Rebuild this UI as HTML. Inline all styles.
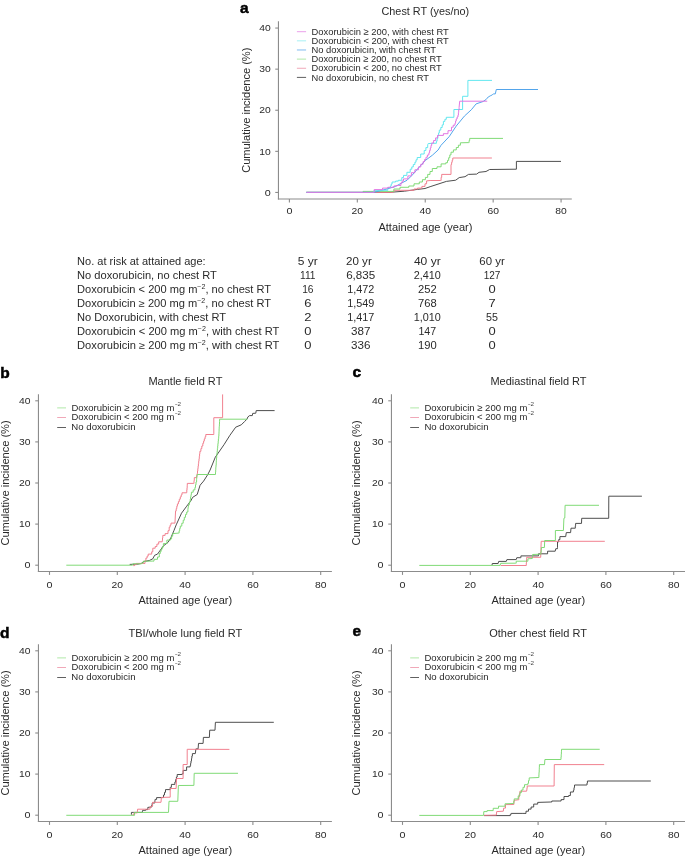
<!DOCTYPE html>
<html><head><meta charset="utf-8"><title>Figure</title>
<style>html,body{margin:0;padding:0;background:#fff;}svg{display:block;font-family:"Liberation Sans", sans-serif;will-change:transform;}</style></head>
<body><svg width="685" height="857" viewBox="0 0 685 857">
<rect width="685" height="857" fill="#fff"/>
<text x="240.00" y="12.80" font-size="15.5" font-weight="bold" fill="#000" stroke="#000" stroke-width="0.5">a</text>
<text x="381.50" y="14.90" font-size="10.6" textLength="87.60" lengthAdjust="spacingAndGlyphs" fill="#2a2a2a">Chest RT (yes/no)</text>
<line x1="278.45" y1="21.30" x2="278.45" y2="199.55" stroke="#8c8c8c" stroke-width="1.1"/>
<line x1="277.90" y1="199.00" x2="571.80" y2="199.00" stroke="#8c8c8c" stroke-width="1.1"/>
<line x1="275.25" y1="192.45" x2="278.45" y2="192.45" stroke="#8c8c8c" stroke-width="1.1"/>
<text x="264.80" y="195.60" font-size="9.8" textLength="6.00" lengthAdjust="spacingAndGlyphs" fill="#2a2a2a">0</text>
<line x1="275.25" y1="151.35" x2="278.45" y2="151.35" stroke="#8c8c8c" stroke-width="1.1"/>
<text x="259.30" y="154.50" font-size="9.8" textLength="11.50" lengthAdjust="spacingAndGlyphs" fill="#2a2a2a">10</text>
<line x1="275.25" y1="110.25" x2="278.45" y2="110.25" stroke="#8c8c8c" stroke-width="1.1"/>
<text x="259.30" y="113.40" font-size="9.8" textLength="11.50" lengthAdjust="spacingAndGlyphs" fill="#2a2a2a">20</text>
<line x1="275.25" y1="69.15" x2="278.45" y2="69.15" stroke="#8c8c8c" stroke-width="1.1"/>
<text x="259.30" y="72.30" font-size="9.8" textLength="11.50" lengthAdjust="spacingAndGlyphs" fill="#2a2a2a">30</text>
<line x1="275.25" y1="28.05" x2="278.45" y2="28.05" stroke="#8c8c8c" stroke-width="1.1"/>
<text x="259.30" y="31.20" font-size="9.8" textLength="11.50" lengthAdjust="spacingAndGlyphs" fill="#2a2a2a">40</text>
<line x1="289.40" y1="199.00" x2="289.40" y2="202.40" stroke="#8c8c8c" stroke-width="1.1"/>
<text x="286.44" y="214.10" font-size="9.8" textLength="6.00" lengthAdjust="spacingAndGlyphs" fill="#2a2a2a">0</text>
<line x1="357.32" y1="199.00" x2="357.32" y2="202.40" stroke="#8c8c8c" stroke-width="1.1"/>
<text x="351.62" y="214.10" font-size="9.8" textLength="11.50" lengthAdjust="spacingAndGlyphs" fill="#2a2a2a">20</text>
<line x1="425.24" y1="199.00" x2="425.24" y2="202.40" stroke="#8c8c8c" stroke-width="1.1"/>
<text x="419.54" y="214.10" font-size="9.8" textLength="11.50" lengthAdjust="spacingAndGlyphs" fill="#2a2a2a">40</text>
<line x1="493.16" y1="199.00" x2="493.16" y2="202.40" stroke="#8c8c8c" stroke-width="1.1"/>
<text x="487.45" y="214.10" font-size="9.8" textLength="11.50" lengthAdjust="spacingAndGlyphs" fill="#2a2a2a">60</text>
<line x1="561.08" y1="199.00" x2="561.08" y2="202.40" stroke="#8c8c8c" stroke-width="1.1"/>
<text x="555.38" y="214.10" font-size="9.8" textLength="11.50" lengthAdjust="spacingAndGlyphs" fill="#2a2a2a">80</text>
<text x="0" y="0" font-size="10.3" text-anchor="middle" textLength="125.2" lengthAdjust="spacingAndGlyphs" fill="#2a2a2a" transform="translate(249.80,110.25) rotate(-90)">Cumulative incidence (%)</text>
<text x="378.40" y="230.80" font-size="10.3" textLength="94.10" lengthAdjust="spacingAndGlyphs" fill="#2a2a2a">Attained age (year)</text>
<line x1="296.90" y1="31.70" x2="306.10" y2="31.70" stroke="#eaa0ea" stroke-width="1.0"/>
<text x="311.50" y="34.90" font-size="9.6" textLength="137.30" lengthAdjust="spacingAndGlyphs" fill="#2a2a2a">Doxorubicin ≥ 200, with chest RT</text>
<line x1="296.90" y1="40.84" x2="306.10" y2="40.84" stroke="#a8f0f4" stroke-width="1.0"/>
<text x="311.50" y="44.02" font-size="9.6" textLength="137.30" lengthAdjust="spacingAndGlyphs" fill="#2a2a2a">Doxorubicin &lt; 200, with chest RT</text>
<line x1="296.90" y1="49.98" x2="306.10" y2="49.98" stroke="#80bcf0" stroke-width="1.0"/>
<text x="311.50" y="53.14" font-size="9.6" textLength="124.50" lengthAdjust="spacingAndGlyphs" fill="#2a2a2a">No doxorubicin, with chest RT</text>
<line x1="296.90" y1="59.12" x2="306.10" y2="59.12" stroke="#b0e8a8" stroke-width="1.0"/>
<text x="311.50" y="62.26" font-size="9.6" textLength="130.30" lengthAdjust="spacingAndGlyphs" fill="#2a2a2a">Doxorubicin ≥ 200, no chest RT</text>
<line x1="296.90" y1="68.26" x2="306.10" y2="68.26" stroke="#f0a8b8" stroke-width="1.0"/>
<text x="311.50" y="71.38" font-size="9.6" textLength="130.30" lengthAdjust="spacingAndGlyphs" fill="#2a2a2a">Doxorubicin &lt; 200, no chest RT</text>
<line x1="296.90" y1="77.40" x2="306.10" y2="77.40" stroke="#606060" stroke-width="1.0"/>
<text x="311.50" y="80.50" font-size="9.6" textLength="117.50" lengthAdjust="spacingAndGlyphs" fill="#2a2a2a">No doxorubicin, no chest RT</text>
<text x="77.09" y="265.30" font-size="10.2" textLength="128.60" lengthAdjust="spacingAndGlyphs" fill="#2a2a2a">No. at risk at attained age:</text>
<text x="77.09" y="279.17" font-size="10.2" textLength="139.80" lengthAdjust="spacingAndGlyphs" fill="#2a2a2a">No doxorubicin, no chest RT</text>
<text x="77.09" y="293.04" font-size="10.2" textLength="194.00" lengthAdjust="spacingAndGlyphs" fill="#2a2a2a">Doxorubicin &lt; 200 mg m<tspan dy="-3.6" font-size="6.5">−2</tspan><tspan dy="3.6">, no chest RT</tspan></text>
<text x="77.09" y="306.91" font-size="10.2" textLength="194.00" lengthAdjust="spacingAndGlyphs" fill="#2a2a2a">Doxorubicin ≥ 200 mg m<tspan dy="-3.6" font-size="6.5">−2</tspan><tspan dy="3.6">, no chest RT</tspan></text>
<text x="77.09" y="320.78" font-size="10.2" textLength="149.00" lengthAdjust="spacingAndGlyphs" fill="#2a2a2a">No Doxorubicin, with chest RT</text>
<text x="77.09" y="334.65" font-size="10.2" textLength="202.20" lengthAdjust="spacingAndGlyphs" fill="#2a2a2a">Doxorubicin &lt; 200 mg m<tspan dy="-3.6" font-size="6.5">−2</tspan><tspan dy="3.6">, with chest RT</tspan></text>
<text x="77.09" y="348.52" font-size="10.2" textLength="202.20" lengthAdjust="spacingAndGlyphs" fill="#2a2a2a">Doxorubicin ≥ 200 mg m<tspan dy="-3.6" font-size="6.5">−2</tspan><tspan dy="3.6">, with chest RT</tspan></text>
<text x="307.80" y="265.30" font-size="10.2" text-anchor="middle" textLength="20.00" lengthAdjust="spacingAndGlyphs" fill="#2a2a2a">5 yr</text>
<text x="358.90" y="265.30" font-size="10.2" text-anchor="middle" textLength="25.70" lengthAdjust="spacingAndGlyphs" fill="#2a2a2a">20 yr</text>
<text x="427.30" y="265.30" font-size="10.2" text-anchor="middle" textLength="26.80" lengthAdjust="spacingAndGlyphs" fill="#2a2a2a">40 yr</text>
<text x="492.00" y="265.30" font-size="10.2" text-anchor="middle" textLength="25.40" lengthAdjust="spacingAndGlyphs" fill="#2a2a2a">60 yr</text>
<text x="307.80" y="279.17" font-size="10.2" text-anchor="middle" fill="#2a2a2a">111</text>
<text x="360.70" y="279.17" font-size="10.2" text-anchor="middle" textLength="29.10" lengthAdjust="spacingAndGlyphs" fill="#2a2a2a">6,835</text>
<text x="427.30" y="279.17" font-size="10.2" text-anchor="middle" textLength="27.10" lengthAdjust="spacingAndGlyphs" fill="#2a2a2a">2,410</text>
<text x="492.00" y="279.17" font-size="10.2" text-anchor="middle" textLength="16.70" lengthAdjust="spacingAndGlyphs" fill="#2a2a2a">127</text>
<text x="307.80" y="293.04" font-size="10.2" text-anchor="middle" fill="#2a2a2a">16</text>
<text x="360.70" y="293.04" font-size="10.2" text-anchor="middle" textLength="27.10" lengthAdjust="spacingAndGlyphs" fill="#2a2a2a">1,472</text>
<text x="427.30" y="293.04" font-size="10.2" text-anchor="middle" textLength="18.70" lengthAdjust="spacingAndGlyphs" fill="#2a2a2a">252</text>
<text x="492.00" y="293.04" font-size="10.2" text-anchor="middle" textLength="7.20" lengthAdjust="spacingAndGlyphs" fill="#2a2a2a">0</text>
<text x="307.80" y="306.91" font-size="10.2" text-anchor="middle" textLength="7.20" lengthAdjust="spacingAndGlyphs" fill="#2a2a2a">6</text>
<text x="360.70" y="306.91" font-size="10.2" text-anchor="middle" textLength="27.10" lengthAdjust="spacingAndGlyphs" fill="#2a2a2a">1,549</text>
<text x="427.30" y="306.91" font-size="10.2" text-anchor="middle" textLength="18.70" lengthAdjust="spacingAndGlyphs" fill="#2a2a2a">768</text>
<text x="492.00" y="306.91" font-size="10.2" text-anchor="middle" textLength="7.20" lengthAdjust="spacingAndGlyphs" fill="#2a2a2a">7</text>
<text x="307.80" y="320.78" font-size="10.2" text-anchor="middle" textLength="7.20" lengthAdjust="spacingAndGlyphs" fill="#2a2a2a">2</text>
<text x="360.70" y="320.78" font-size="10.2" text-anchor="middle" textLength="27.10" lengthAdjust="spacingAndGlyphs" fill="#2a2a2a">1,417</text>
<text x="427.30" y="320.78" font-size="10.2" text-anchor="middle" textLength="27.10" lengthAdjust="spacingAndGlyphs" fill="#2a2a2a">1,010</text>
<text x="492.00" y="320.78" font-size="10.2" text-anchor="middle" textLength="11.90" lengthAdjust="spacingAndGlyphs" fill="#2a2a2a">55</text>
<text x="307.80" y="334.65" font-size="10.2" text-anchor="middle" textLength="7.20" lengthAdjust="spacingAndGlyphs" fill="#2a2a2a">0</text>
<text x="360.70" y="334.65" font-size="10.2" text-anchor="middle" textLength="19.40" lengthAdjust="spacingAndGlyphs" fill="#2a2a2a">387</text>
<text x="427.30" y="334.65" font-size="10.2" text-anchor="middle" textLength="17.70" lengthAdjust="spacingAndGlyphs" fill="#2a2a2a">147</text>
<text x="492.00" y="334.65" font-size="10.2" text-anchor="middle" textLength="7.20" lengthAdjust="spacingAndGlyphs" fill="#2a2a2a">0</text>
<text x="307.80" y="348.52" font-size="10.2" text-anchor="middle" textLength="7.20" lengthAdjust="spacingAndGlyphs" fill="#2a2a2a">0</text>
<text x="360.70" y="348.52" font-size="10.2" text-anchor="middle" textLength="19.40" lengthAdjust="spacingAndGlyphs" fill="#2a2a2a">336</text>
<text x="427.30" y="348.52" font-size="10.2" text-anchor="middle" textLength="18.70" lengthAdjust="spacingAndGlyphs" fill="#2a2a2a">190</text>
<text x="492.00" y="348.52" font-size="10.2" text-anchor="middle" textLength="7.20" lengthAdjust="spacingAndGlyphs" fill="#2a2a2a">0</text>
<text x="0.30" y="378.10" font-size="15.5" font-weight="bold" fill="#000" stroke="#000" stroke-width="0.5">b</text>
<text x="148.40" y="384.80" font-size="10.6" textLength="74.00" lengthAdjust="spacingAndGlyphs" fill="#2a2a2a">Mantle field RT</text>
<line x1="38.45" y1="394.30" x2="38.45" y2="572.05" stroke="#8c8c8c" stroke-width="1.1"/>
<line x1="37.90" y1="571.50" x2="331.90" y2="571.50" stroke="#8c8c8c" stroke-width="1.1"/>
<line x1="35.25" y1="565.20" x2="38.45" y2="565.20" stroke="#8c8c8c" stroke-width="1.1"/>
<text x="24.59" y="568.35" font-size="9.8" textLength="6.00" lengthAdjust="spacingAndGlyphs" fill="#2a2a2a">0</text>
<line x1="35.25" y1="524.10" x2="38.45" y2="524.10" stroke="#8c8c8c" stroke-width="1.1"/>
<text x="19.09" y="527.25" font-size="9.8" textLength="11.50" lengthAdjust="spacingAndGlyphs" fill="#2a2a2a">10</text>
<line x1="35.25" y1="483.00" x2="38.45" y2="483.00" stroke="#8c8c8c" stroke-width="1.1"/>
<text x="19.09" y="486.15" font-size="9.8" textLength="11.50" lengthAdjust="spacingAndGlyphs" fill="#2a2a2a">20</text>
<line x1="35.25" y1="441.90" x2="38.45" y2="441.90" stroke="#8c8c8c" stroke-width="1.1"/>
<text x="19.09" y="445.05" font-size="9.8" textLength="11.50" lengthAdjust="spacingAndGlyphs" fill="#2a2a2a">30</text>
<line x1="35.25" y1="400.80" x2="38.45" y2="400.80" stroke="#8c8c8c" stroke-width="1.1"/>
<text x="19.09" y="403.95" font-size="9.8" textLength="11.50" lengthAdjust="spacingAndGlyphs" fill="#2a2a2a">40</text>
<line x1="49.50" y1="571.50" x2="49.50" y2="574.90" stroke="#8c8c8c" stroke-width="1.1"/>
<text x="46.55" y="587.90" font-size="9.8" textLength="6.00" lengthAdjust="spacingAndGlyphs" fill="#2a2a2a">0</text>
<line x1="117.30" y1="571.50" x2="117.30" y2="574.90" stroke="#8c8c8c" stroke-width="1.1"/>
<text x="111.59" y="587.90" font-size="9.8" textLength="11.50" lengthAdjust="spacingAndGlyphs" fill="#2a2a2a">20</text>
<line x1="185.10" y1="571.50" x2="185.10" y2="574.90" stroke="#8c8c8c" stroke-width="1.1"/>
<text x="179.39" y="587.90" font-size="9.8" textLength="11.50" lengthAdjust="spacingAndGlyphs" fill="#2a2a2a">40</text>
<line x1="252.90" y1="571.50" x2="252.90" y2="574.90" stroke="#8c8c8c" stroke-width="1.1"/>
<text x="247.19" y="587.90" font-size="9.8" textLength="11.50" lengthAdjust="spacingAndGlyphs" fill="#2a2a2a">60</text>
<line x1="320.70" y1="571.50" x2="320.70" y2="574.90" stroke="#8c8c8c" stroke-width="1.1"/>
<text x="315.00" y="587.90" font-size="9.8" textLength="11.50" lengthAdjust="spacingAndGlyphs" fill="#2a2a2a">80</text>
<text x="0" y="0" font-size="10.3" text-anchor="middle" textLength="125.2" lengthAdjust="spacingAndGlyphs" fill="#2a2a2a" transform="translate(9.20,483.00) rotate(-90)">Cumulative incidence (%)</text>
<text x="138.50" y="603.90" font-size="10.3" textLength="93.60" lengthAdjust="spacingAndGlyphs" fill="#2a2a2a">Attained age (year)</text>
<line x1="57.20" y1="407.90" x2="66.00" y2="407.90" stroke="#b0e8a8" stroke-width="1.0"/>
<text x="71.39" y="410.90" font-size="9.6" textLength="103.00" lengthAdjust="spacingAndGlyphs" fill="#2a2a2a">Doxorubicin ≥ 200 mg m</text>
<text x="174.79" y="405.90" font-size="6.0" textLength="3.00" lengthAdjust="spacingAndGlyphs" fill="#444">-</text>
<text x="177.59" y="405.90" font-size="6.0" textLength="3.50" lengthAdjust="spacingAndGlyphs" fill="#444">2</text>
<line x1="57.20" y1="417.50" x2="66.00" y2="417.50" stroke="#f0a8b8" stroke-width="1.0"/>
<text x="71.39" y="420.40" font-size="9.6" textLength="103.00" lengthAdjust="spacingAndGlyphs" fill="#2a2a2a">Doxorubicin &lt; 200 mg m</text>
<text x="174.79" y="415.40" font-size="6.0" textLength="3.00" lengthAdjust="spacingAndGlyphs" fill="#444">-</text>
<text x="177.59" y="415.40" font-size="6.0" textLength="3.50" lengthAdjust="spacingAndGlyphs" fill="#444">2</text>
<line x1="57.20" y1="427.50" x2="66.00" y2="427.50" stroke="#606060" stroke-width="1.0"/>
<text x="71.39" y="429.90" font-size="9.6" textLength="64.10" lengthAdjust="spacingAndGlyphs" fill="#2a2a2a">No doxorubicin</text>
<text x="352.40" y="377.30" font-size="15.5" font-weight="bold" fill="#000" stroke="#000" stroke-width="0.5">c</text>
<text x="490.50" y="384.90" font-size="10.6" textLength="96.00" lengthAdjust="spacingAndGlyphs" fill="#2a2a2a">Mediastinal field RT</text>
<line x1="391.45" y1="394.30" x2="391.45" y2="572.05" stroke="#8c8c8c" stroke-width="1.1"/>
<line x1="390.90" y1="571.50" x2="690.00" y2="571.50" stroke="#8c8c8c" stroke-width="1.1"/>
<line x1="388.25" y1="565.20" x2="391.45" y2="565.20" stroke="#8c8c8c" stroke-width="1.1"/>
<text x="377.60" y="568.35" font-size="9.8" textLength="6.00" lengthAdjust="spacingAndGlyphs" fill="#2a2a2a">0</text>
<line x1="388.25" y1="524.10" x2="391.45" y2="524.10" stroke="#8c8c8c" stroke-width="1.1"/>
<text x="372.10" y="527.25" font-size="9.8" textLength="11.50" lengthAdjust="spacingAndGlyphs" fill="#2a2a2a">10</text>
<line x1="388.25" y1="483.00" x2="391.45" y2="483.00" stroke="#8c8c8c" stroke-width="1.1"/>
<text x="372.10" y="486.15" font-size="9.8" textLength="11.50" lengthAdjust="spacingAndGlyphs" fill="#2a2a2a">20</text>
<line x1="388.25" y1="441.90" x2="391.45" y2="441.90" stroke="#8c8c8c" stroke-width="1.1"/>
<text x="372.10" y="445.05" font-size="9.8" textLength="11.50" lengthAdjust="spacingAndGlyphs" fill="#2a2a2a">30</text>
<line x1="388.25" y1="400.80" x2="391.45" y2="400.80" stroke="#8c8c8c" stroke-width="1.1"/>
<text x="372.10" y="403.95" font-size="9.8" textLength="11.50" lengthAdjust="spacingAndGlyphs" fill="#2a2a2a">40</text>
<line x1="402.50" y1="571.50" x2="402.50" y2="574.90" stroke="#8c8c8c" stroke-width="1.1"/>
<text x="399.55" y="587.90" font-size="9.8" textLength="6.00" lengthAdjust="spacingAndGlyphs" fill="#2a2a2a">0</text>
<line x1="470.30" y1="571.50" x2="470.30" y2="574.90" stroke="#8c8c8c" stroke-width="1.1"/>
<text x="464.60" y="587.90" font-size="9.8" textLength="11.50" lengthAdjust="spacingAndGlyphs" fill="#2a2a2a">20</text>
<line x1="538.10" y1="571.50" x2="538.10" y2="574.90" stroke="#8c8c8c" stroke-width="1.1"/>
<text x="532.40" y="587.90" font-size="9.8" textLength="11.50" lengthAdjust="spacingAndGlyphs" fill="#2a2a2a">40</text>
<line x1="605.90" y1="571.50" x2="605.90" y2="574.90" stroke="#8c8c8c" stroke-width="1.1"/>
<text x="600.20" y="587.90" font-size="9.8" textLength="11.50" lengthAdjust="spacingAndGlyphs" fill="#2a2a2a">60</text>
<line x1="673.70" y1="571.50" x2="673.70" y2="574.90" stroke="#8c8c8c" stroke-width="1.1"/>
<text x="668.00" y="587.90" font-size="9.8" textLength="11.50" lengthAdjust="spacingAndGlyphs" fill="#2a2a2a">80</text>
<text x="0" y="0" font-size="10.3" text-anchor="middle" textLength="125.2" lengthAdjust="spacingAndGlyphs" fill="#2a2a2a" transform="translate(360.20,483.00) rotate(-90)">Cumulative incidence (%)</text>
<text x="491.50" y="603.90" font-size="10.3" textLength="93.60" lengthAdjust="spacingAndGlyphs" fill="#2a2a2a">Attained age (year)</text>
<line x1="410.20" y1="407.90" x2="419.00" y2="407.90" stroke="#b0e8a8" stroke-width="1.0"/>
<text x="424.40" y="410.90" font-size="9.6" textLength="103.00" lengthAdjust="spacingAndGlyphs" fill="#2a2a2a">Doxorubicin ≥ 200 mg m</text>
<text x="527.80" y="405.90" font-size="6.0" textLength="3.00" lengthAdjust="spacingAndGlyphs" fill="#444">-</text>
<text x="530.60" y="405.90" font-size="6.0" textLength="3.50" lengthAdjust="spacingAndGlyphs" fill="#444">2</text>
<line x1="410.20" y1="417.50" x2="419.00" y2="417.50" stroke="#f0a8b8" stroke-width="1.0"/>
<text x="424.40" y="420.40" font-size="9.6" textLength="103.00" lengthAdjust="spacingAndGlyphs" fill="#2a2a2a">Doxorubicin &lt; 200 mg m</text>
<text x="527.80" y="415.40" font-size="6.0" textLength="3.00" lengthAdjust="spacingAndGlyphs" fill="#444">-</text>
<text x="530.60" y="415.40" font-size="6.0" textLength="3.50" lengthAdjust="spacingAndGlyphs" fill="#444">2</text>
<line x1="410.20" y1="427.50" x2="419.00" y2="427.50" stroke="#606060" stroke-width="1.0"/>
<text x="424.40" y="429.90" font-size="9.6" textLength="64.10" lengthAdjust="spacingAndGlyphs" fill="#2a2a2a">No doxorubicin</text>
<text x="0.00" y="637.70" font-size="15.5" font-weight="bold" fill="#000" stroke="#000" stroke-width="0.5">d</text>
<text x="128.40" y="636.80" font-size="10.6" textLength="113.90" lengthAdjust="spacingAndGlyphs" fill="#2a2a2a">TBI/whole lung field RT</text>
<line x1="38.45" y1="644.30" x2="38.45" y2="822.05" stroke="#8c8c8c" stroke-width="1.1"/>
<line x1="37.90" y1="821.50" x2="331.90" y2="821.50" stroke="#8c8c8c" stroke-width="1.1"/>
<line x1="35.25" y1="815.20" x2="38.45" y2="815.20" stroke="#8c8c8c" stroke-width="1.1"/>
<text x="24.59" y="818.35" font-size="9.8" textLength="6.00" lengthAdjust="spacingAndGlyphs" fill="#2a2a2a">0</text>
<line x1="35.25" y1="774.10" x2="38.45" y2="774.10" stroke="#8c8c8c" stroke-width="1.1"/>
<text x="19.09" y="777.25" font-size="9.8" textLength="11.50" lengthAdjust="spacingAndGlyphs" fill="#2a2a2a">10</text>
<line x1="35.25" y1="733.00" x2="38.45" y2="733.00" stroke="#8c8c8c" stroke-width="1.1"/>
<text x="19.09" y="736.15" font-size="9.8" textLength="11.50" lengthAdjust="spacingAndGlyphs" fill="#2a2a2a">20</text>
<line x1="35.25" y1="691.90" x2="38.45" y2="691.90" stroke="#8c8c8c" stroke-width="1.1"/>
<text x="19.09" y="695.05" font-size="9.8" textLength="11.50" lengthAdjust="spacingAndGlyphs" fill="#2a2a2a">30</text>
<line x1="35.25" y1="650.80" x2="38.45" y2="650.80" stroke="#8c8c8c" stroke-width="1.1"/>
<text x="19.09" y="653.95" font-size="9.8" textLength="11.50" lengthAdjust="spacingAndGlyphs" fill="#2a2a2a">40</text>
<line x1="49.50" y1="821.50" x2="49.50" y2="824.90" stroke="#8c8c8c" stroke-width="1.1"/>
<text x="46.55" y="837.90" font-size="9.8" textLength="6.00" lengthAdjust="spacingAndGlyphs" fill="#2a2a2a">0</text>
<line x1="117.30" y1="821.50" x2="117.30" y2="824.90" stroke="#8c8c8c" stroke-width="1.1"/>
<text x="111.59" y="837.90" font-size="9.8" textLength="11.50" lengthAdjust="spacingAndGlyphs" fill="#2a2a2a">20</text>
<line x1="185.10" y1="821.50" x2="185.10" y2="824.90" stroke="#8c8c8c" stroke-width="1.1"/>
<text x="179.39" y="837.90" font-size="9.8" textLength="11.50" lengthAdjust="spacingAndGlyphs" fill="#2a2a2a">40</text>
<line x1="252.90" y1="821.50" x2="252.90" y2="824.90" stroke="#8c8c8c" stroke-width="1.1"/>
<text x="247.19" y="837.90" font-size="9.8" textLength="11.50" lengthAdjust="spacingAndGlyphs" fill="#2a2a2a">60</text>
<line x1="320.70" y1="821.50" x2="320.70" y2="824.90" stroke="#8c8c8c" stroke-width="1.1"/>
<text x="315.00" y="837.90" font-size="9.8" textLength="11.50" lengthAdjust="spacingAndGlyphs" fill="#2a2a2a">80</text>
<text x="0" y="0" font-size="10.3" text-anchor="middle" textLength="125.2" lengthAdjust="spacingAndGlyphs" fill="#2a2a2a" transform="translate(9.20,733.00) rotate(-90)">Cumulative incidence (%)</text>
<text x="138.50" y="853.90" font-size="10.3" textLength="93.60" lengthAdjust="spacingAndGlyphs" fill="#2a2a2a">Attained age (year)</text>
<line x1="57.20" y1="657.90" x2="66.00" y2="657.90" stroke="#b0e8a8" stroke-width="1.0"/>
<text x="71.39" y="660.90" font-size="9.6" textLength="103.00" lengthAdjust="spacingAndGlyphs" fill="#2a2a2a">Doxorubicin ≥ 200 mg m</text>
<text x="174.79" y="655.90" font-size="6.0" textLength="3.00" lengthAdjust="spacingAndGlyphs" fill="#444">-</text>
<text x="177.59" y="655.90" font-size="6.0" textLength="3.50" lengthAdjust="spacingAndGlyphs" fill="#444">2</text>
<line x1="57.20" y1="667.50" x2="66.00" y2="667.50" stroke="#f0a8b8" stroke-width="1.0"/>
<text x="71.39" y="670.40" font-size="9.6" textLength="103.00" lengthAdjust="spacingAndGlyphs" fill="#2a2a2a">Doxorubicin &lt; 200 mg m</text>
<text x="174.79" y="665.40" font-size="6.0" textLength="3.00" lengthAdjust="spacingAndGlyphs" fill="#444">-</text>
<text x="177.59" y="665.40" font-size="6.0" textLength="3.50" lengthAdjust="spacingAndGlyphs" fill="#444">2</text>
<line x1="57.20" y1="677.50" x2="66.00" y2="677.50" stroke="#606060" stroke-width="1.0"/>
<text x="71.39" y="679.90" font-size="9.6" textLength="64.10" lengthAdjust="spacingAndGlyphs" fill="#2a2a2a">No doxorubicin</text>
<text x="352.40" y="636.00" font-size="15.5" font-weight="bold" fill="#000" stroke="#000" stroke-width="0.5">e</text>
<text x="489.20" y="637.20" font-size="10.6" textLength="97.80" lengthAdjust="spacingAndGlyphs" fill="#2a2a2a">Other chest field RT</text>
<line x1="391.45" y1="644.30" x2="391.45" y2="822.05" stroke="#8c8c8c" stroke-width="1.1"/>
<line x1="390.90" y1="821.50" x2="690.00" y2="821.50" stroke="#8c8c8c" stroke-width="1.1"/>
<line x1="388.25" y1="815.20" x2="391.45" y2="815.20" stroke="#8c8c8c" stroke-width="1.1"/>
<text x="377.60" y="818.35" font-size="9.8" textLength="6.00" lengthAdjust="spacingAndGlyphs" fill="#2a2a2a">0</text>
<line x1="388.25" y1="774.10" x2="391.45" y2="774.10" stroke="#8c8c8c" stroke-width="1.1"/>
<text x="372.10" y="777.25" font-size="9.8" textLength="11.50" lengthAdjust="spacingAndGlyphs" fill="#2a2a2a">10</text>
<line x1="388.25" y1="733.00" x2="391.45" y2="733.00" stroke="#8c8c8c" stroke-width="1.1"/>
<text x="372.10" y="736.15" font-size="9.8" textLength="11.50" lengthAdjust="spacingAndGlyphs" fill="#2a2a2a">20</text>
<line x1="388.25" y1="691.90" x2="391.45" y2="691.90" stroke="#8c8c8c" stroke-width="1.1"/>
<text x="372.10" y="695.05" font-size="9.8" textLength="11.50" lengthAdjust="spacingAndGlyphs" fill="#2a2a2a">30</text>
<line x1="388.25" y1="650.80" x2="391.45" y2="650.80" stroke="#8c8c8c" stroke-width="1.1"/>
<text x="372.10" y="653.95" font-size="9.8" textLength="11.50" lengthAdjust="spacingAndGlyphs" fill="#2a2a2a">40</text>
<line x1="402.50" y1="821.50" x2="402.50" y2="824.90" stroke="#8c8c8c" stroke-width="1.1"/>
<text x="399.55" y="837.90" font-size="9.8" textLength="6.00" lengthAdjust="spacingAndGlyphs" fill="#2a2a2a">0</text>
<line x1="470.30" y1="821.50" x2="470.30" y2="824.90" stroke="#8c8c8c" stroke-width="1.1"/>
<text x="464.60" y="837.90" font-size="9.8" textLength="11.50" lengthAdjust="spacingAndGlyphs" fill="#2a2a2a">20</text>
<line x1="538.10" y1="821.50" x2="538.10" y2="824.90" stroke="#8c8c8c" stroke-width="1.1"/>
<text x="532.40" y="837.90" font-size="9.8" textLength="11.50" lengthAdjust="spacingAndGlyphs" fill="#2a2a2a">40</text>
<line x1="605.90" y1="821.50" x2="605.90" y2="824.90" stroke="#8c8c8c" stroke-width="1.1"/>
<text x="600.20" y="837.90" font-size="9.8" textLength="11.50" lengthAdjust="spacingAndGlyphs" fill="#2a2a2a">60</text>
<line x1="673.70" y1="821.50" x2="673.70" y2="824.90" stroke="#8c8c8c" stroke-width="1.1"/>
<text x="668.00" y="837.90" font-size="9.8" textLength="11.50" lengthAdjust="spacingAndGlyphs" fill="#2a2a2a">80</text>
<text x="0" y="0" font-size="10.3" text-anchor="middle" textLength="125.2" lengthAdjust="spacingAndGlyphs" fill="#2a2a2a" transform="translate(360.20,733.00) rotate(-90)">Cumulative incidence (%)</text>
<text x="491.50" y="853.90" font-size="10.3" textLength="93.60" lengthAdjust="spacingAndGlyphs" fill="#2a2a2a">Attained age (year)</text>
<line x1="410.20" y1="657.90" x2="419.00" y2="657.90" stroke="#b0e8a8" stroke-width="1.0"/>
<text x="424.40" y="660.90" font-size="9.6" textLength="103.00" lengthAdjust="spacingAndGlyphs" fill="#2a2a2a">Doxorubicin ≥ 200 mg m</text>
<text x="527.80" y="655.90" font-size="6.0" textLength="3.00" lengthAdjust="spacingAndGlyphs" fill="#444">-</text>
<text x="530.60" y="655.90" font-size="6.0" textLength="3.50" lengthAdjust="spacingAndGlyphs" fill="#444">2</text>
<line x1="410.20" y1="667.50" x2="419.00" y2="667.50" stroke="#f0a8b8" stroke-width="1.0"/>
<text x="424.40" y="670.40" font-size="9.6" textLength="103.00" lengthAdjust="spacingAndGlyphs" fill="#2a2a2a">Doxorubicin &lt; 200 mg m</text>
<text x="527.80" y="665.40" font-size="6.0" textLength="3.00" lengthAdjust="spacingAndGlyphs" fill="#444">-</text>
<text x="530.60" y="665.40" font-size="6.0" textLength="3.50" lengthAdjust="spacingAndGlyphs" fill="#444">2</text>
<line x1="410.20" y1="677.50" x2="419.00" y2="677.50" stroke="#606060" stroke-width="1.0"/>
<text x="424.40" y="679.90" font-size="9.6" textLength="64.10" lengthAdjust="spacingAndGlyphs" fill="#2a2a2a">No doxorubicin</text>
<polyline points="306.3,192.4 390.0,192.4 393.9,192.0 404.4,191.2 417.5,189.4 425.0,188.5 430.1,186.7 446.4,181.4 455.7,180.2 459.2,177.6 465.0,176.7 468.5,174.4 476.7,174.1 479.0,172.3 486.0,171.5 489.6,169.5 516.4,169.2 516.4,161.4 561.0,161.4" fill="none" stroke="#454545" stroke-width="0.95" stroke-linejoin="miter"/>
<polyline points="306.3,192.4 372.9,192.4 393.0,192.4 393.0,191.2 394.8,191.2 394.8,190.3 414.0,190.3 414.0,189.0 417.5,189.0 417.5,188.1 421.9,188.1 421.9,186.4 425.0,186.4 425.0,183.8 426.6,183.8 426.6,180.9 430.1,180.5 440.5,180.5 441.1,180.5 441.1,177.4 441.7,177.4 441.7,174.4 451.0,174.4 451.0,164.5 451.6,164.5 451.6,162.3 452.2,162.3 452.2,160.2 452.8,160.2 452.8,158.0 491.9,158.0" fill="none" stroke="#f07a8a" stroke-width="0.95" stroke-linejoin="miter"/>
<polyline points="306.3,192.4 361.0,192.4 363.0,192.4 363.0,191.4 393.9,191.4 393.9,189.0 400.0,189.0 400.0,187.3 408.8,187.3 408.8,186.0 414.0,186.0 414.0,183.8 419.3,183.8 419.3,182.0 422.4,182.0 422.4,179.7 425.4,179.7 425.4,177.4 427.7,177.4 427.7,174.4 430.0,174.4 430.0,171.5 432.3,171.5 432.3,168.5 437.0,168.5 437.0,166.8 441.1,166.8 441.1,163.9 445.8,163.9 445.8,162.7 447.5,162.7 447.5,160.4 448.7,160.4 448.7,157.7 449.8,157.7 449.8,154.9 451.0,154.9 451.0,152.2 453.4,152.2 453.4,149.9 456.3,149.9 456.3,147.5 458.4,147.5 458.4,145.2 460.4,145.2 460.4,142.8 468.5,142.6 469.1,142.6 469.1,140.5 469.7,140.5 469.7,138.4 503.0,138.4" fill="none" stroke="#7ad870" stroke-width="0.95" stroke-linejoin="miter"/>
<polyline points="306.3,192.4 373.8,192.4 386.9,189.0 395.6,186.4 401.8,182.9 407.0,180.3 412.3,175.0 418.4,168.0 425.4,160.4 432.4,155.2 438.1,150.0 441.0,145.3 449.2,136.6 456.2,126.1 464.4,116.1 471.4,109.7 476.1,103.9 483.1,101.5 486.1,99.5 488.2,97.0 490.2,95.9 492.3,94.9 493.3,93.9 495.3,93.9 496.3,89.5 538.0,89.5" fill="none" stroke="#4aa0ea" stroke-width="0.95" stroke-linejoin="miter"/>
<polyline points="306.3,192.4 371.1,192.4 373.8,192.4 373.8,190.8 382.5,190.3 387.8,190.3 387.8,187.7 390.4,187.7 390.4,186.0 391.2,186.0 391.2,184.0 392.1,184.0 392.1,182.0 395.6,182.0 395.6,181.1 398.3,181.1 398.3,180.3 401.8,180.3 401.8,177.6 403.5,177.6 403.5,175.4 406.9,175.4 406.9,172.3 410.2,172.3 410.2,169.2 411.8,169.2 411.8,166.9 413.3,166.9 413.3,164.5 414.9,164.5 414.9,162.2 416.0,162.2 416.0,159.8 417.2,159.8 417.2,157.5 420.7,157.5 420.7,154.0 424.2,154.0 424.2,150.5 425.9,150.5 425.9,147.6 427.7,147.6 427.7,144.7 428.2,143.6 431.7,143.3 436.4,143.3 436.4,141.2 437.1,141.2 437.1,138.4 437.9,138.4 437.9,135.6 438.6,135.6 438.6,132.9 439.3,132.9 439.3,130.1 440.8,130.1 440.8,127.5 442.2,127.5 442.2,124.9 443.4,124.9 443.4,121.4 444.9,121.4 444.9,119.3 446.3,119.3 446.3,117.3 453.9,117.3 453.9,109.5 462.6,109.5 462.6,96.3 467.9,96.3 467.9,80.4 492.0,80.4" fill="none" stroke="#5ce6ee" stroke-width="0.95" stroke-linejoin="miter"/>
<polyline points="306.3,192.4 371.0,192.4 374.2,192.4 374.2,189.6 382.5,189.6 382.5,188.1 387.8,188.1 387.8,187.3 393.9,187.3 393.9,186.0 398.3,185.5 400.9,185.5 400.9,182.9 402.2,182.9 402.2,180.9 403.5,180.9 403.5,178.9 407.9,178.9 407.9,175.9 411.4,175.9 411.4,172.7 414.9,172.7 414.9,169.8 418.4,169.8 418.4,166.9 420.8,166.9 420.8,164.2 423.1,164.2 423.1,161.6 424.6,161.6 424.6,159.4 426.0,159.4 426.0,157.2 427.4,157.2 427.4,155.0 428.9,155.0 428.9,152.8 429.6,152.8 429.6,150.4 430.3,150.4 430.3,147.9 431.0,147.9 431.0,145.4 431.7,145.4 431.7,143.0 433.6,143.0 433.6,140.5 435.6,140.5 435.6,137.9 437.5,137.9 437.5,135.4 443.4,135.4 443.4,133.7 448.0,133.7 448.0,130.7 451.5,130.7 451.5,127.2 453.2,127.2 453.2,125.2 455.0,125.2 455.0,123.1 455.6,123.1 455.6,121.0 456.2,121.0 456.2,119.0 457.1,119.0 457.1,117.0 458.0,117.0 458.0,115.0 458.4,115.0 458.4,112.5 458.7,112.5 458.7,109.9 459.1,109.9 459.1,107.4 459.7,101.2 487.2,101.2" fill="none" stroke="#e070e0" stroke-width="0.95" stroke-linejoin="miter"/>
<polyline points="129.7,564.4 138.0,564.1 141.5,563.4 143.3,561.6 149.3,560.5 152.8,558.8 154.6,555.3 157.5,554.1 163.4,545.9 168.0,542.4 170.9,537.7 173.9,530.7 176.2,524.9 181.5,513.2 186.7,506.2 190.8,500.9 192.6,497.4 197.2,494.5 200.1,485.2 203.6,481.1 207.7,474.7 210.1,470.0 215.3,457.2 224.0,444.7 229.9,435.3 235.7,427.2 241.3,424.8 244.4,421.7 247.0,419.1 247.9,416.9 249.6,415.6 252.3,415.6 252.7,413.4 255.8,413.2 256.2,410.6 274.6,410.6" fill="none" stroke="#454545" stroke-width="0.95" stroke-linejoin="miter"/>
<polyline points="133.2,565.6 134.5,565.6 134.5,564.7 136.3,564.7 136.3,563.4 145.0,563.4 145.0,560.8 145.9,560.8 145.9,558.1 147.1,558.1 147.1,556.1 148.2,556.1 148.2,554.1 151.7,554.1 151.7,551.8 152.8,551.8 152.8,548.2 155.2,548.2 155.2,546.5 156.9,546.5 156.9,544.1 158.7,544.1 158.7,541.8 162.2,541.8 162.2,540.7 162.5,540.7 162.5,538.0 162.8,538.0 162.8,535.4 165.1,535.4 165.1,533.6 168.0,533.6 168.0,530.7 169.2,530.7 169.2,527.2 170.1,527.2 170.1,525.2 171.0,525.2 171.0,523.1 175.0,523.1 175.0,522.0 175.6,510.9 176.2,510.9 176.2,508.6 176.8,508.6 176.8,506.2 177.4,506.2 177.4,503.9 178.4,503.9 178.4,501.6 179.3,501.6 179.3,499.2 180.3,499.2 180.3,496.9 181.2,496.9 181.2,494.9 182.0,494.9 182.0,492.8 186.7,492.8 186.7,492.2 186.8,492.2 186.8,490.0 187.0,490.0 187.0,487.8 187.2,487.8 187.2,485.6 187.3,485.6 187.3,483.4 193.7,483.4 194.0,483.4 194.0,480.5 194.3,480.5 194.3,477.6 196.6,477.6 196.6,477.0 197.2,473.5 197.5,473.5 197.5,471.0 197.8,471.0 197.8,468.6 198.1,468.6 198.1,466.1 198.4,466.1 198.4,463.6 198.7,463.6 198.7,461.2 199.0,461.2 199.0,458.7 199.3,458.7 199.3,456.2 199.6,456.2 199.6,453.8 199.9,453.8 199.9,451.3 200.9,451.3 200.9,448.6 201.8,448.6 201.8,446.0 202.8,446.0 202.8,443.3 203.6,443.3 203.6,441.1 204.3,441.1 204.3,438.9 205.1,438.9 205.1,436.7 205.8,436.7 205.8,434.5 213.8,434.5 213.8,433.8 213.8,417.7 222.6,417.7 222.6,394.4" fill="none" stroke="#f07a8a" stroke-width="0.95" stroke-linejoin="miter"/>
<polyline points="66.3,565.2 132.5,565.2 132.8,563.8 141.5,563.8 141.5,563.0 143.3,563.0 143.3,561.2 152.8,561.1 154.0,561.1 154.0,559.3 157.5,559.3 157.5,557.0 159.3,557.0 159.3,553.5 160.3,553.5 160.3,551.4 161.2,551.4 161.2,549.2 162.2,549.2 162.2,547.1 163.4,547.1 163.4,543.6 166.9,543.6 166.9,540.1 170.4,540.1 170.4,538.9 171.6,538.9 171.6,536.2 172.7,536.2 172.7,533.6 178.5,533.1 179.1,533.1 179.1,530.8 179.7,530.8 179.7,528.4 180.3,528.4 180.3,526.1 181.8,526.1 181.8,523.2 183.2,523.2 183.2,520.2 184.3,520.2 184.3,517.3 185.5,517.3 185.5,514.4 186.7,514.4 186.7,512.0 187.9,512.0 187.9,509.7 188.5,505.0 189.3,505.0 189.3,502.1 190.2,502.1 190.2,499.2 190.6,499.2 190.6,496.9 191.0,496.9 191.0,494.5 191.4,494.5 191.4,492.2 193.2,492.2 193.2,489.9 194.9,489.9 194.9,487.5 195.5,487.5 195.5,484.8 196.0,484.8 196.0,482.0 196.6,482.0 196.6,479.3 197.2,474.5 215.3,474.5 215.5,474.5 215.5,472.1 215.7,472.1 215.7,469.8 215.8,469.8 215.8,467.4 216.0,467.4 216.0,465.1 216.2,465.1 216.2,462.8 216.3,462.8 216.3,460.4 216.5,460.4 216.5,458.1 216.7,458.1 216.7,455.7 216.9,455.7 216.9,453.3 217.2,453.3 217.2,450.8 217.4,450.8 217.4,448.4 217.7,448.4 217.7,446.0 217.9,446.0 217.9,443.5 218.2,443.5 218.2,441.1 218.4,441.1 218.4,438.7 218.7,438.7 218.7,436.2 218.9,436.2 218.9,433.8 219.0,433.8 219.0,431.4 219.1,431.4 219.1,428.9 219.2,428.9 219.2,426.5 219.4,426.5 219.4,424.1 219.5,424.1 219.5,421.6 219.6,421.6 219.6,419.2 247.4,419.2" fill="none" stroke="#7ad870" stroke-width="0.95" stroke-linejoin="miter"/>
<polyline points="492.0,565.1 492.3,563.5 498.1,563.5 498.7,561.4 506.3,561.4 506.9,559.6 516.2,559.6 516.8,557.7 520.3,557.7 520.9,557.7 520.9,555.9 537.8,555.9 538.4,555.9 538.4,553.8 547.0,553.8 547.6,553.8 547.6,551.2 555.2,551.2 555.8,548.7 557.5,548.7 557.5,547.7 557.5,541.9 558.7,541.9 558.7,539.6 559.9,539.6 559.9,536.6 565.7,536.6 566.3,532.6 570.6,532.6 571.0,528.2 575.0,528.2 575.3,528.2 575.3,525.8 575.6,525.8 575.6,523.4 581.5,523.4 581.7,518.3 608.7,518.3 608.8,496.2 641.9,496.2" fill="none" stroke="#454545" stroke-width="0.95" stroke-linejoin="miter"/>
<polyline points="500.7,565.5 526.1,565.5 526.3,565.5 526.3,562.8 526.5,562.8 526.5,560.0 526.7,560.0 526.7,557.3 540.7,557.3 541.2,541.3 604.8,541.3" fill="none" stroke="#f07a8a" stroke-width="0.95" stroke-linejoin="miter"/>
<polyline points="419.3,565.4 500.1,565.4 500.7,563.3 515.6,563.2 516.2,563.2 516.2,561.2 526.7,561.2 527.9,561.2 527.9,558.8 532.0,558.5 532.3,558.5 532.3,556.5 532.6,556.5 532.6,554.5 540.7,554.2 540.9,554.2 540.9,552.0 541.2,552.0 541.2,549.7 541.4,549.7 541.4,547.5 544.4,547.5 544.7,540.5 555.4,540.5 555.4,530.5 563.4,530.5 563.9,518.3 564.8,518.0 565.1,505.3 599.0,505.3" fill="none" stroke="#7ad870" stroke-width="0.95" stroke-linejoin="miter"/>
<polyline points="131.4,814.7 131.4,812.4 133.6,812.4 142.4,812.4 142.4,811.8 142.7,810.3 145.7,810.3 145.7,809.6 147.8,809.6 147.8,807.4 151.5,807.0 151.8,807.0 151.8,805.0 152.2,805.0 152.2,803.0 154.8,803.0 154.8,802.3 155.1,799.4 156.6,799.4 156.6,797.6 161.7,797.6 163.5,797.6 163.5,795.0 164.5,795.0 164.5,792.3 165.5,792.3 165.5,789.6 170.2,789.6 170.2,787.3 171.4,787.3 171.4,784.4 174.9,784.4 174.9,782.0 175.7,782.0 175.7,779.5 176.4,779.5 176.4,777.0 177.2,777.0 177.2,774.5 181.9,774.5 181.9,773.9 183.1,773.9 183.1,770.4 186.6,770.4 186.6,766.9 190.1,766.9 190.1,765.7 190.6,765.7 190.6,763.3 191.0,763.3 191.0,760.9 191.5,760.9 191.5,758.4 191.9,758.4 191.9,756.0 192.4,756.0 192.4,753.6 195.3,753.6 195.9,748.9 198.1,748.9 198.5,743.4 203.1,743.4 203.4,737.4 209.4,737.4 209.7,730.2 215.0,730.2 215.4,722.3 273.8,722.3" fill="none" stroke="#454545" stroke-width="0.95" stroke-linejoin="miter"/>
<polyline points="132.5,814.7 134.0,814.7 134.0,812.9 137.3,812.9 137.3,812.2 137.6,809.2 149.3,809.2 150.0,809.2 150.0,806.7 151.9,806.7 151.9,806.0 152.6,806.0 152.6,802.3 161.0,802.3 161.4,797.4 170.2,797.2 170.2,788.5 176.1,788.5 176.6,778.5 183.1,778.5 183.1,764.5 187.2,764.5 187.2,749.3 229.4,749.4" fill="none" stroke="#f07a8a" stroke-width="0.95" stroke-linejoin="miter"/>
<polyline points="66.3,815.3 134.6,815.3 134.6,812.4 168.5,812.4 169.0,801.3 177.8,801.3 178.4,785.5 193.9,785.4 194.2,773.3 238.0,773.3" fill="none" stroke="#7ad870" stroke-width="0.95" stroke-linejoin="miter"/>
<polyline points="484.0,815.6 510.3,815.6 510.3,814.3 511.2,814.3 511.2,813.4 522.1,813.4 526.0,813.4 526.0,811.2 528.5,811.2 528.5,809.1 531.1,809.1 531.1,807.0 533.7,807.0 533.7,804.1 537.7,804.1 537.7,802.4 550.8,802.0 551.8,802.0 551.8,801.0 559.9,801.0 561.1,801.0 561.1,799.6 564.0,799.6 564.0,796.5 568.7,796.5 568.7,795.5 570.4,795.5 570.4,792.0 573.4,792.0 573.4,790.3 574.0,790.3 574.0,787.6 574.5,787.6 574.5,785.0 586.6,785.0 587.0,785.0 587.0,783.0 587.4,783.0 587.4,781.0 650.8,781.0" fill="none" stroke="#454545" stroke-width="0.95" stroke-linejoin="miter"/>
<polyline points="484.0,815.3 496.3,815.1 496.7,811.6 503.3,811.2 503.7,808.1 505.5,808.1 505.5,804.6 513.8,804.5 514.2,800.3 518.2,799.8 518.8,799.8 518.8,796.9 519.3,796.9 519.3,794.1 519.9,794.1 519.9,791.2 526.5,791.2 526.5,790.6 526.9,790.6 526.9,788.3 527.2,788.3 527.2,786.0 554.1,786.0 554.3,764.6 604.2,764.6" fill="none" stroke="#f07a8a" stroke-width="0.95" stroke-linejoin="miter"/>
<polyline points="419.3,815.4 483.6,815.4 483.8,811.6 487.1,811.6 487.1,810.6 493.2,810.6 493.2,808.3 498.5,808.3 498.5,806.2 505.0,806.2 505.0,803.8 513.3,803.5 513.8,803.5 513.8,801.2 514.2,801.2 514.2,798.9 518.2,798.9 518.2,795.9 519.9,795.9 519.9,792.6 521.4,792.6 521.4,790.0 523.0,790.0 523.0,787.3 524.5,787.3 524.5,784.7 527.8,784.7 527.8,783.4 528.5,783.4 528.5,780.6 529.2,780.6 529.2,777.9 538.8,777.5 538.9,777.5 538.9,774.9 539.0,774.9 539.0,772.3 539.2,772.3 539.2,769.8 539.3,769.8 539.3,767.2 539.4,767.2 539.4,764.6 544.5,764.6 544.9,759.5 560.9,759.5 561.0,759.5 561.0,757.0 561.2,757.0 561.2,754.4 561.4,754.4 561.4,751.8 561.5,751.8 561.5,749.3 599.7,749.3" fill="none" stroke="#7ad870" stroke-width="0.95" stroke-linejoin="miter"/>
</svg></body></html>
